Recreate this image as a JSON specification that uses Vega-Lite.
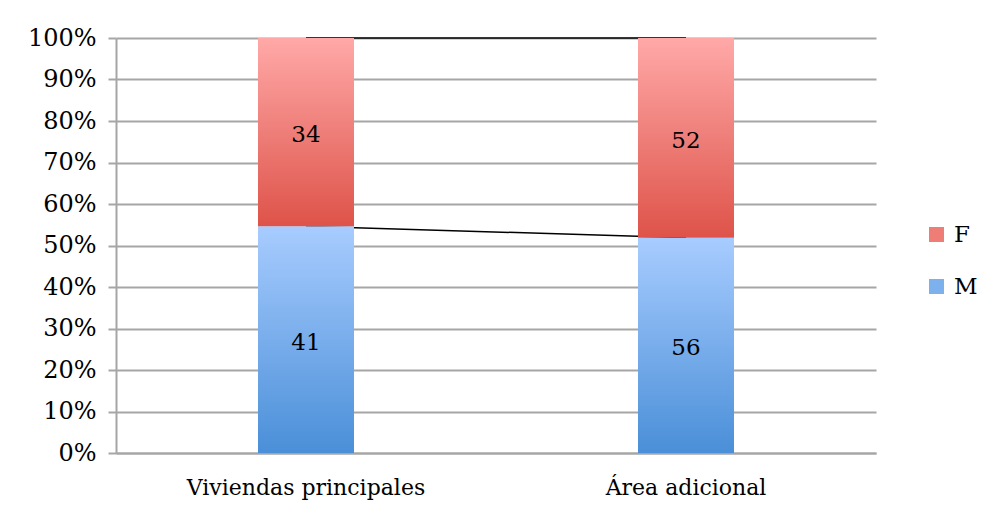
{
  "$schema": "https://vega.github.io/schema/vega-lite/v6.json",
  "width": 760,
  "height": 415,
  "autosize": {"type": "none"},
  "padding": {"left": 116, "top": 38, "right": 116, "bottom": 66},
  "background": "white",
  "config": {
    "view": {"stroke": null},
    "font": "DejaVu Serif",
    "axis": {"labelFont": "DejaVu Serif", "labelColor": "black", "labelLimit": 0}
  },
  "data": {
    "values": [
      {"cat": "Viviendas principales", "sex": "M", "value": 41},
      {"cat": "Viviendas principales", "sex": "F", "value": 34},
      {"cat": "Área adicional", "sex": "M", "value": 56},
      {"cat": "Área adicional", "sex": "F", "value": 52}
    ]
  },
  "transform": [
    {"stack": "value", "groupby": ["cat"], "sort": [{"field": "sex", "order": "descending"}], "offset": "normalize", "as": ["y0", "y1"]},
    {"calculate": "(datum.y0 + datum.y1) / 2", "as": "ymid"}
  ],
  "encoding": {
    "x": {
      "field": "cat", "type": "nominal", "sort": ["Viviendas principales", "Área adicional"],
      "scale": {"paddingInner": 0, "paddingOuter": 0},
      "axis": {"title": null, "labelAngle": 0, "labelFontSize": 22, "ticks": false, "domain": true, "domainColor": "#A6A6A6", "domainWidth": 2, "labelPadding": 24, "grid": false}
    }
  },
  "layer": [
    {
      "mark": {"type": "line", "color": "black", "strokeWidth": 1.5},
      "encoding": {
        "y": {"field": "y1", "type": "quantitative", "scale": {"domain": [0, 1]},
          "axis": {"title": null, "format": ".0%", "labelFontSize": 24, "values": [0,0.1,0.2,0.3,0.4,0.5,0.6,0.7,0.8,0.9,1], "grid": true, "gridColor": "#A6A6A6", "gridWidth": 2, "tickColor": "#A6A6A6", "tickWidth": 2, "tickSize": 8, "domainColor": "#A6A6A6", "domainWidth": 2, "labelPadding": 12}},
        "detail": {"field": "sex"}
      }
    },
    {
      "transform": [{"filter": "datum.sex === 'M'"}],
      "mark": {"type": "bar", "width": 96, "fill": {"gradient": "linear", "x1": 0, "y1": 0, "x2": 0, "y2": 1, "stops": [{"offset": 0, "color": "#A8CCFF"}, {"offset": 1, "color": "#4A8FD8"}]}},
      "encoding": {
        "y": {"field": "y0", "type": "quantitative"},
        "y2": {"field": "y1"}
      }
    },
    {
      "transform": [{"filter": "datum.sex === 'F'"}],
      "mark": {"type": "bar", "width": 96, "fill": {"gradient": "linear", "x1": 0, "y1": 0, "x2": 0, "y2": 1, "stops": [{"offset": 0, "color": "#FFA9A8"}, {"offset": 1, "color": "#DE5349"}]}},
      "encoding": {
        "y": {"field": "y0", "type": "quantitative"},
        "y2": {"field": "y1"}
      }
    },
    {
      "mark": {"type": "bar", "width": 96, "opacity": 0},
      "encoding": {
        "y": {"field": "y0", "type": "quantitative"},
        "y2": {"field": "y1"},
        "color": {
          "field": "sex", "type": "nominal",
          "scale": {"domain": ["F", "M"], "range": ["#EE7D76", "#7DB1EE"]},
          "legend": {"title": null, "orient": "none", "legendX": 809, "legendY": 185, "symbolType": "square", "symbolSize": 225, "symbolOpacity": 1, "symbolStrokeWidth": 0, "labelFontSize": 23, "labelFont": "DejaVu Serif", "labelColor": "black", "rowPadding": 28, "labelOffset": 6}
        }
      }
    },
    {
      "mark": {"type": "text", "fontSize": 23, "font": "DejaVu Serif", "color": "black", "baseline": "middle", "dy": 3},
      "encoding": {
        "y": {"field": "ymid", "type": "quantitative"},
        "text": {"field": "value", "type": "quantitative"}
      }
    }
  ]
}
